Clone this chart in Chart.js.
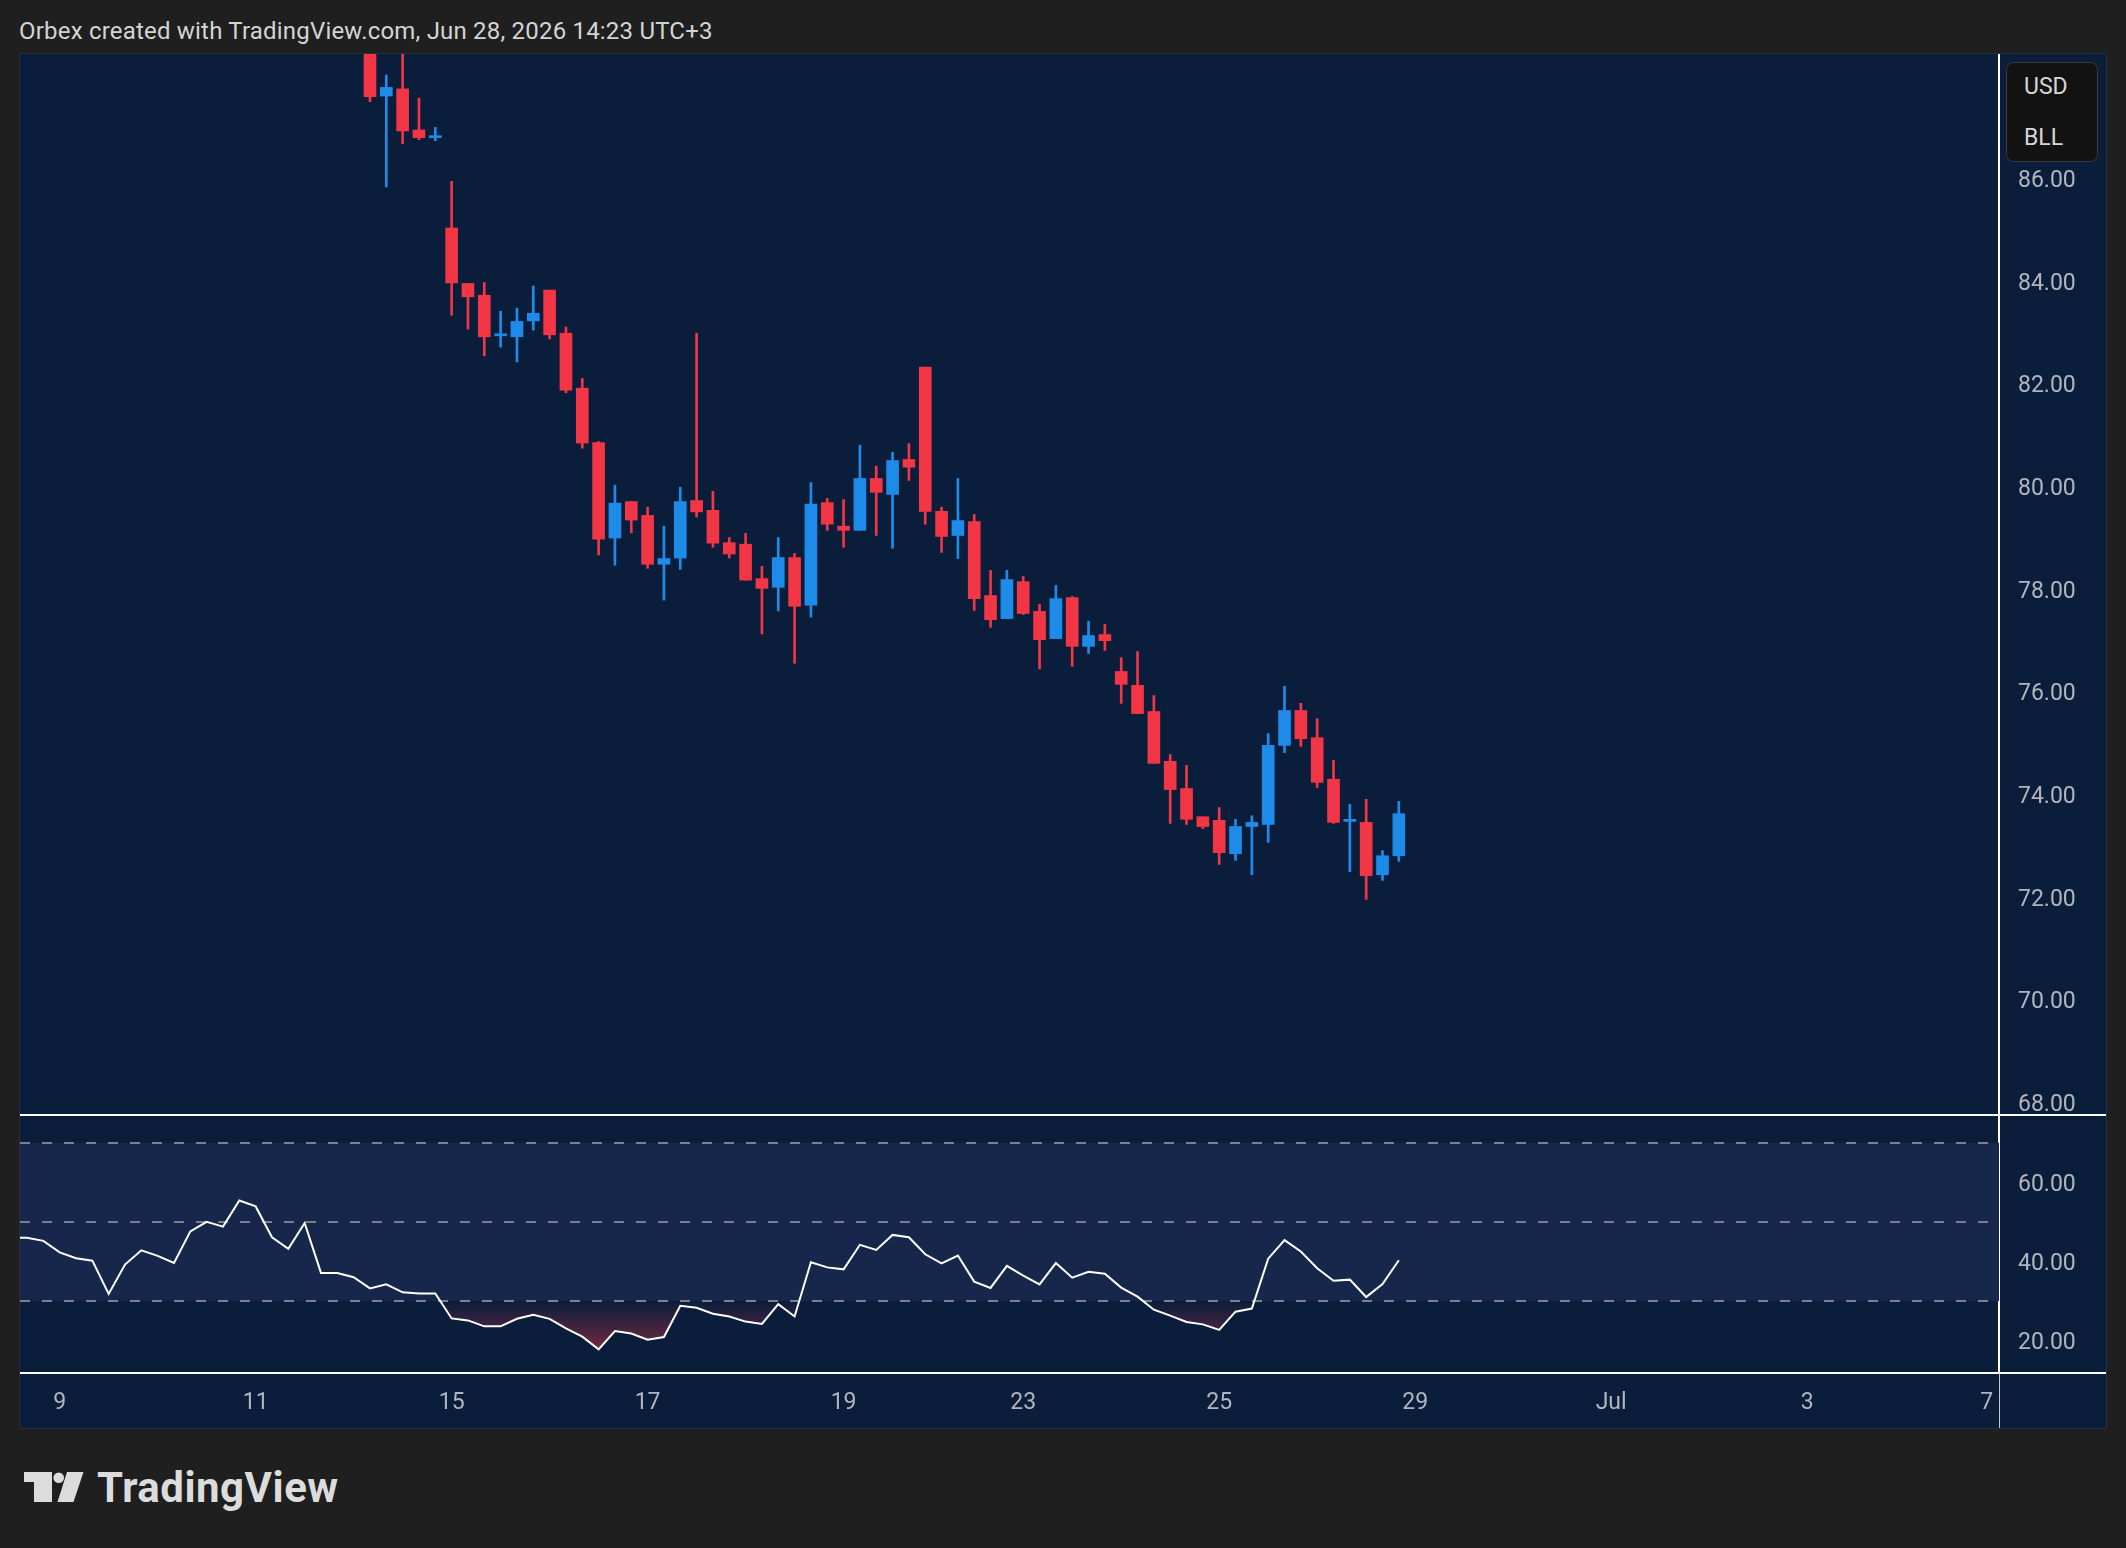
<!DOCTYPE html>
<html>
<head>
<meta charset="utf-8">
<title>Orbex - Oil 4H</title>
<script src="https://cdn.jsdelivr.net/npm/chart.js@4.4.1/dist/chart.umd.min.js"></script>
<style>
  html, body { margin: 0; padding: 0; background: #1f1f1f; }
  body { width: 2126px; height: 1548px; position: relative; overflow: hidden; font-family: Roboto, sans-serif; }
  #header { position: absolute; left: 19px; top: 19px; font-size: 24px; line-height: 24px; color: #d4d4d4; white-space: nowrap; letter-spacing: 0.2px; }
  #panel { position: absolute; left: 19px; top: 53px; width: 2086px; height: 1374px; background: #0a1e3c; border: 1px solid #2a2e39; }
  #priceCanvas { position: absolute; left: 0; top: 0; }
  #rsiCanvas { position: absolute; left: 0; top: 1062px; }
  #unit { position: absolute; left: 1986px; top: 8px; width: 92px; height: 100px; box-sizing: border-box;
          background: #121212; border: 1px solid #3c3c3c; border-radius: 8px; color: #d6d6d6; font-size: 23px; line-height: 23px; }
  #unit span { position: absolute; left: 17px; }
  #logo { position: absolute; left: 0; top: 1460px; }
  #logoText { position: absolute; left: 97px; top: 1467px; font-size: 42px; line-height: 42px; font-weight: 700; color: #dcdcdc; letter-spacing: 0.5px; }
</style>
</head>
<body>
<div id="header">Orbex created with TradingView.com, Jun 28, 2026 14:23 UTC+3</div>
<div id="panel">
  <canvas id="priceCanvas" width="2086" height="1062"></canvas>
  <canvas id="rsiCanvas" width="2086" height="312"></canvas>
  <div id="unit"><span style="top:12px">USD</span><span style="top:63px">BLL</span></div>
</div>
<svg id="logo" width="100" height="50">
  <polygon points="24,12 52,12 52,42 34,42 34,22 24,22" fill="#dcdcdc"/>
  <circle cx="58.7" cy="17.7" r="5.3" fill="#dcdcdc"/>
  <polygon points="67,12 83.5,12 73.5,42 57.5,42" fill="#dcdcdc"/>
</svg>
<div id="logoText">TradingView</div>

<script>
// 4H candles, index 0 = first bar of Jun 9 (earlier bars are above the visible range)
const firstCandle = 19;
const opens = [
  89.20, 87.58, 87.72, 86.92, 86.77, 85.01, 83.93, 83.70, 82.91, 82.89,
  83.20, 83.80, 82.96, 81.89, 80.83, 78.97, 79.68, 79.41, 78.46, 78.58,
  79.70, 79.51, 78.88, 78.85, 78.18, 78.01, 78.59, 77.66, 79.66, 79.20,
  79.12, 80.13, 79.82, 80.50, 82.30, 79.49, 79.02, 79.29, 77.85, 77.40,
  78.12, 77.54, 77.01, 77.81, 76.86, 77.09, 76.37, 76.10, 75.59, 74.62,
  74.09, 73.54, 73.47, 72.82, 73.35, 73.39, 74.93, 75.61, 75.08, 74.27,
  73.45, 73.43, 72.41, 72.78
];
const highs = [
  89.50, 87.99, 88.70, 87.54, 86.97, 85.92, 83.93, 83.95, 83.39, 83.45,
  83.88, 83.80, 83.08, 82.08, 80.85, 80.00, 79.68, 79.57, 79.20, 79.96,
  82.96, 79.88, 78.98, 79.06, 78.42, 78.98, 78.67, 80.05, 79.74, 79.72,
  80.78, 80.37, 80.64, 80.81, 82.30, 79.57, 80.13, 79.43, 78.34, 78.34,
  78.22, 77.68, 78.05, 77.83, 77.35, 77.29, 76.64, 76.76, 75.90, 74.75,
  74.54, 73.54, 73.72, 73.49, 73.56, 75.16, 76.08, 75.75, 75.45, 74.64,
  73.78, 73.88, 72.88, 73.84
];
const lows = [
  87.47, 85.81, 86.65, 86.73, 86.71, 83.31, 83.04, 82.52, 82.69, 82.40,
  83.02, 82.85, 81.80, 80.72, 78.64, 78.44, 79.07, 78.38, 77.76, 78.36,
  79.38, 78.79, 78.58, 78.15, 77.10, 77.55, 76.53, 77.43, 79.12, 78.79,
  79.12, 79.02, 78.77, 80.09, 79.24, 78.69, 78.57, 77.56, 77.23, 77.40,
  77.48, 76.42, 77.01, 76.47, 76.72, 76.78, 75.75, 75.55, 74.58, 73.41,
  73.39, 73.31, 72.61, 72.69, 72.41, 73.04, 74.79, 74.91, 74.11, 73.41,
  72.47, 71.93, 72.30, 72.67
];
const closes = [
  87.57, 87.75, 86.90, 86.77, 86.80, 83.94, 83.67, 82.89, 82.94, 83.19,
  83.35, 82.93, 81.85, 80.82, 78.95, 79.65, 79.32, 78.46, 78.57, 79.68,
  79.48, 78.87, 78.66, 78.15, 77.99, 78.59, 77.64, 79.63, 79.24, 79.12,
  80.13, 79.86, 80.48, 80.35, 79.49, 79.00, 79.31, 77.79, 77.38, 78.16,
  77.50, 76.99, 77.79, 76.86, 77.07, 76.97, 76.12, 75.55, 74.58, 74.07,
  73.49, 73.35, 72.84, 73.35, 73.43, 74.93, 75.61, 75.06, 74.21, 73.43,
  73.49, 72.39, 72.78, 73.60
];

// RSI(14), first value at index -3
const rsiStart = -3;
const rsiValues = [
  46.0, 46.0, 45.2, 42.3, 40.8, 40.2, 31.8, 39.2, 42.8, 41.4,
  39.6, 47.6, 50.0, 48.8, 55.4, 53.9, 46.1, 43.2, 49.7, 37.1,
  37.1, 36.0, 33.2, 34.2, 32.2, 31.9, 31.9, 25.6, 25.1, 23.6,
  23.6, 25.5, 26.5, 25.5, 23.1, 21.0, 17.8, 22.4, 21.8, 20.2,
  20.9, 28.8, 28.3, 26.8, 26.1, 24.8, 24.2, 29.2, 26.1, 39.8,
  38.5, 38.0, 44.2, 42.9, 46.7, 46.1, 41.8, 39.5, 41.5, 34.9,
  33.3, 38.9, 36.4, 34.2, 39.6, 35.9, 37.4, 36.9, 33.4, 31.1,
  27.8, 26.3, 24.7, 24.1, 22.7, 27.3, 28.1, 40.7, 45.4, 42.5,
  38.3, 35.1, 35.4, 31.0, 34.3, 40.3
];

const dayTicks  = [0, 12, 24, 36, 48, 59, 71, 83, 95, 107, 118];
const dayLabels = ['9', '11', '15', '17', '19', '23', '25', '29', 'Jul', '3', '7'];
const priceTicks = [68, 70, 72, 74, 76, 78, 80, 82, 84, 86];
const rsiTicks = [20, 40, 60];
const rsiLevels = [70, 50, 30];

const UP = '#1e8be9';
const DOWN = '#f23645';
const X_MIN = -2.43, X_MAX = 118.75;

Chart.defaults.font.family = 'Roboto, sans-serif';
Chart.defaults.font.size = 23;
Chart.defaults.color = '#b2b5be';

const candleIdx = opens.map((_, i) => firstCandle + i);
const candleColor = ctx => closes[ctx.dataIndex] >= opens[ctx.dataIndex] ? UP : DOWN;

const noPad = s => { s.paddingTop = 0; s.paddingBottom = 0; s.paddingLeft = 0; s.paddingRight = 0; };

// white separator under the price pane
const priceFrame = {
  id: 'priceFrame',
  afterDraw(chart) {
    const { ctx, chartArea, width } = chart;
    ctx.save();
    ctx.strokeStyle = '#ffffff';
    ctx.lineWidth = 2;
    ctx.beginPath();
    ctx.moveTo(0, chartArea.bottom - 1);
    ctx.lineTo(width, chartArea.bottom - 1);
    ctx.stroke();
    ctx.restore();
  }
};

// RSI band + dashed levels
const rsiBands = {
  id: 'rsiBands',
  beforeDatasetsDraw(chart) {
    const { ctx, chartArea } = chart;
    const y = chart.scales.y;
    const top = y.getPixelForValue(rsiLevels[0]);
    const bot = y.getPixelForValue(rsiLevels[2]);
    ctx.save();
    ctx.fillStyle = '#17264b';
    ctx.fillRect(chartArea.left, top, chartArea.right - chartArea.left, bot - top);
    ctx.strokeStyle = '#7d808a';
    ctx.lineWidth = 2;
    ctx.setLineDash([10, 12]);
    rsiLevels.forEach(v => {
      const py = Math.round(y.getPixelForValue(v));
      ctx.beginPath();
      ctx.moveTo(chartArea.left, py);
      ctx.lineTo(chartArea.right, py);
      ctx.stroke();
    });
    ctx.restore();
  },
  afterDraw(chart) {
    const { ctx, chartArea, width, height } = chart;
    ctx.save();
    ctx.strokeStyle = '#ffffff';
    ctx.lineWidth = 2;
    ctx.beginPath();
    ctx.moveTo(0, chartArea.bottom);
    ctx.lineTo(width, chartArea.bottom);
    ctx.stroke();
    ctx.lineWidth = 1;
    ctx.strokeStyle = '#c8c8c8';
    ctx.beginPath();
    ctx.moveTo(chartArea.right + 0.5, chartArea.bottom);
    ctx.lineTo(chartArea.right + 0.5, height);
    ctx.stroke();
    ctx.restore();
  }
};

function oversoldFill(context) {
  const chart = context.chart;
  const y = chart.scales && chart.scales.y;
  if (!chart.chartArea || !y) return 'rgba(0,0,0,0)';
  const g = chart.ctx.createLinearGradient(0, y.getPixelForValue(30), 0, y.getPixelForValue(15));
  g.addColorStop(0, 'rgba(242,54,69,0)');
  g.addColorStop(1, 'rgba(242,54,69,0.55)');
  return g;
}

new Chart(document.getElementById('priceCanvas'), {
  type: 'bar',
  data: {
    datasets: [
      {
        data: candleIdx.map((x, i) => ({ x, y: [lows[i], highs[i]] })),
        backgroundColor: candleColor,
        barThickness: 2,
        grouped: false,
        borderWidth: 0
      },
      {
        data: candleIdx.map((x, i) => ({ x, y: [opens[i], closes[i]] })),
        backgroundColor: candleColor,
        barThickness: 12,
        minBarLength: 2,
        grouped: false,
        borderWidth: 0
      }
    ]
  },
  options: {
    responsive: false,
    animation: false,
    layout: { padding: 0, autoPadding: false },
    plugins: { legend: { display: false }, tooltip: { enabled: false } },
    scales: {
      x: { type: 'linear', min: X_MIN, max: X_MAX, offset: false, display: false },
      y: {
        position: 'right',
        min: 67.71,
        max: 88.40,
        grid: { display: false, drawTicks: false },
        border: { color: '#ffffff', width: 2 },
        ticks: { padding: 19, labelOffset: 4, callback: v => v.toFixed(2) },
        afterBuildTicks: s => { s.ticks = priceTicks.map(v => ({ value: v })); },
        afterFit: s => { s.width = 107; noPad(s); }
      }
    }
  },
  plugins: [priceFrame]
});

new Chart(document.getElementById('rsiCanvas'), {
  type: 'line',
  data: {
    datasets: [{
      data: rsiValues.map((v, i) => ({ x: rsiStart + i, y: v })),
      borderColor: '#ffffff',
      borderWidth: 2,
      pointRadius: 0,
      tension: 0,
      backgroundColor: oversoldFill,
      fill: { target: { value: 30 }, above: 'rgba(0,0,0,0)' }
    }]
  },
  options: {
    responsive: false,
    animation: false,
    layout: { padding: 0, autoPadding: false },
    plugins: { legend: { display: false }, tooltip: { enabled: false } },
    scales: {
      x: {
        type: 'linear',
        min: X_MIN,
        max: X_MAX,
        offset: false,
        grid: { display: false, drawTicks: false },
        border: { display: false },
        ticks: {
          padding: 16,
          autoSkip: false,
          maxRotation: 0,
          callback: v => dayLabels[dayTicks.indexOf(v)]
        },
        afterBuildTicks: s => { s.ticks = dayTicks.map(v => ({ value: v })); },
        afterFit: s => { s.height = 55; noPad(s); }
      },
      y: {
        position: 'right',
        min: 11.81,
        max: 76.75,
        grid: { display: false, drawTicks: false },
        border: { color: '#ffffff', width: 2 },
        ticks: { padding: 19, labelOffset: 3, callback: v => v.toFixed(2) },
        afterBuildTicks: s => { s.ticks = rsiTicks.map(v => ({ value: v })); },
        afterFit: s => { s.width = 107; noPad(s); }
      }
    }
  },
  plugins: [rsiBands]
});
</script>
</body>
</html>
